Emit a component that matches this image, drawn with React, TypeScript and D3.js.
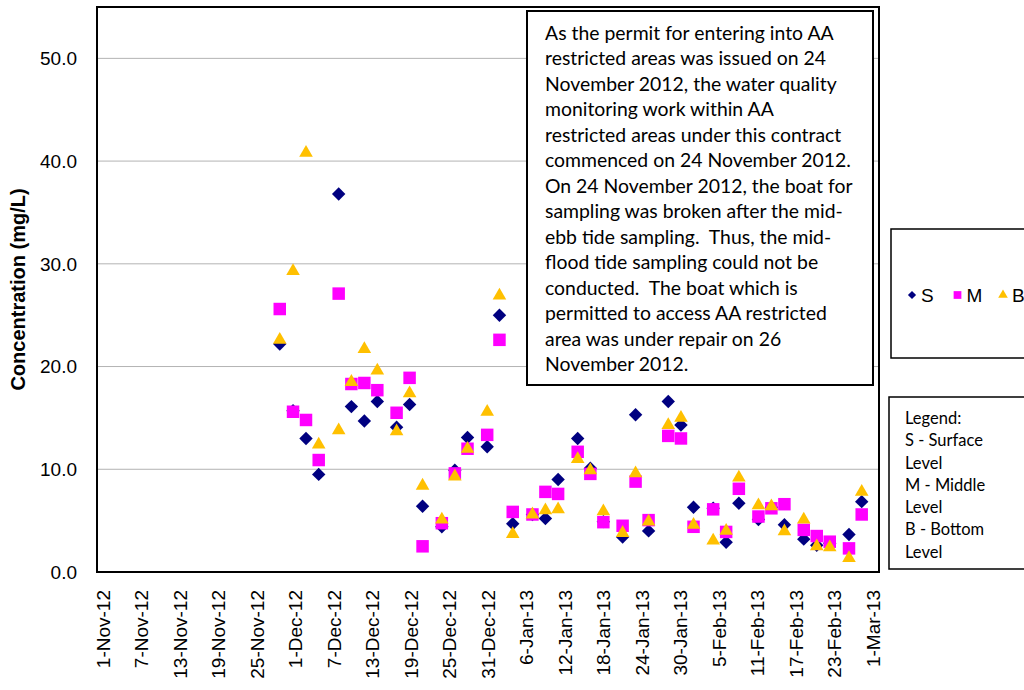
import * as d3 from "d3";
import { useEffect } from "react";

const sampleTimes = [
  "2012-11-28 13:20", "2012-11-30 15:00", "2012-12-02 15:30", "2012-12-04 15:00",
  "2012-12-07 17:40", "2012-12-09 17:10", "2012-12-11 17:40", "2012-12-13 18:10",
  "2012-12-16 18:15", "2012-12-18 18:50", "2012-12-20 19:20", "2012-12-23 19:25",
  "2012-12-25 20:00", "2012-12-27 19:25", "2012-12-30 21:00", "2013-01-01 18:50",
  "2013-01-03 20:30", "2013-01-06 22:10", "2013-01-08 22:40", "2013-01-10 22:10",
  "2013-01-13 23:20", "2013-01-15 22:40", "2013-01-17 23:20", "2013-01-20 23:20",
  "2013-01-22 23:50", "2013-01-25 00:30", "2013-01-28 02:00", "2013-01-30 01:30",
  "2013-02-01 00:30", "2013-02-04 02:00", "2013-02-06 02:30", "2013-02-08 02:00",
  "2013-02-11 03:10", "2013-02-13 03:40", "2013-02-15 04:20", "2013-02-18 04:40",
  "2013-02-20 05:10", "2013-02-22 05:50", "2013-02-25 05:50", "2013-02-27 05:20",
];

const surface = [
  22.2, 15.7, 13.0, 9.5, 36.8, 16.1, 14.7, 16.6, 14.1, 16.3,
  6.4, 4.4, 9.9, 13.1, 12.2, 25.0, 4.7, 5.6, 5.2, 9.0,
  13.0, 10.1, 4.9, 3.4, 15.3, 4.0, 16.6, 14.3, 6.3, 6.2,
  2.9, 6.7, 5.1, 6.3, 4.6, 3.2, 2.6, 2.8, 3.65, 6.85,
];

const middle = [
  25.6, 15.6, 14.8, 10.9, 27.1, 18.3, 18.4, 17.7, 15.5, 18.9,
  2.5, 4.75, 9.6, 12.0, 13.35, 22.6, 5.85, 5.6, 7.8, 7.6,
  11.7, 9.55, 4.85, 4.5, 8.8, 5.05, 13.25, 13.0, 4.4, 6.1,
  3.9, 8.1, 5.4, 6.2, 6.6, 4.1, 3.5, 2.95, 2.3, 5.6,
];

const bottom = [
  22.6, 29.3, 40.8, 12.4, 13.8, 18.5, 21.7, 19.6, 13.7, 17.4,
  8.4, 5.1, 9.3, 12.0, 15.6, 26.9, 3.7, 5.6, 6.0, 6.1,
  11.0, 9.9, 5.9, 3.8, 9.6, 4.9, 14.3, 15.0, 4.6, 3.05,
  4.0, 9.2, 6.5, 6.4, 3.95, 5.1, 2.5, 2.4, 1.35, 7.8,
];

const tickDates = [
  "2012-11-01", "2012-11-07", "2012-11-13", "2012-11-19", "2012-11-25",
  "2012-12-01", "2012-12-07", "2012-12-13", "2012-12-19", "2012-12-25",
  "2012-12-31", "2013-01-06", "2013-01-12", "2013-01-18", "2013-01-24",
  "2013-01-30", "2013-02-05", "2013-02-11", "2013-02-17", "2013-02-23",
  "2013-03-01",
];

const yTicks = [0, 10, 20, 30, 40, 50];

const noteLines = [
  "As the permit for entering into AA",
  "restricted areas was issued on 24",
  "November 2012, the water quality",
  "monitoring work within AA",
  "restricted areas under this contract",
  "commenced on 24 November 2012.",
  "On 24 November 2012, the boat for",
  "sampling was broken after the mid-",
  "ebb tide sampling.  Thus, the mid-",
  "flood tide sampling could not be",
  "conducted.  The boat which is",
  "permitted to access AA restricted",
  "area was under repair on 26",
  "November 2012.",
];

const legendLines = [
  "Legend:",
  "S - Surface",
  "Level",
  "M - Middle",
  "Level",
  "B - Bottom",
  "Level",
];

const parseTime = d3.timeParse("%Y-%m-%d %H:%M");
const parseDay = d3.timeParse("%Y-%m-%d");
const fmtDay = d3.timeFormat("%-d-%b-%y");

const AXIS_FONT = "'Liberation Sans', Arial, sans-serif";
const NOTE_FONT = "Lato, 'Open Sans', sans-serif";

const plot = { left: 97, right: 879, top: 7, bottom: 572 };

const diamondPath = d3.symbol(d3.symbolSquare, 90)()!;
const squarePath = d3.symbol(d3.symbolSquare, 156)()!;
const trianglePath = d3.symbol(d3.symbolTriangle, 80)()!;
const diamondSmall = d3.symbol(d3.symbolSquare, 34)()!;
const squareSmall = d3.symbol(d3.symbolSquare, 60)()!;
const triangleSmall = d3.symbol(d3.symbolTriangle, 40)()!;

export default function App() {
  useEffect(() => {
    document.body.style.margin = "0";
    document.body.style.overflow = "hidden";
  }, []);

  const x = d3
    .scaleTime()
    .domain([new Date(2012, 9, 31, 2), new Date(2013, 2, 1, 22)])
    .range([plot.left, plot.right]);
  const y = d3.scaleLinear().domain([0, 55]).range([plot.bottom, plot.top]);

  const times = sampleTimes.map((t) => parseTime(t)!);
  const series = [
    { name: "S", values: surface, color: "#000080", path: diamondPath, rotate: 45 },
    { name: "M", values: middle, color: "#FF00FF", path: squarePath, rotate: 0 },
    { name: "B", values: bottom, color: "#FFC000", path: trianglePath, rotate: 0 },
  ];

  return (
    <svg width={1024} height={690} style={{ display: "block", background: "#fff" }}>
      {/* gridlines */}
      {yTicks
        .filter((v) => v > 0)
        .map((v) => (
          <line key={v} x1={plot.left} x2={plot.right} y1={y(v)} y2={y(v)} stroke="#b3b3b3" strokeWidth={1} />
        ))}

      {/* markers */}
      {series.map((s) => (
        <g key={s.name}>
          {s.values.map((v, i) => (
            <path
              key={i}
              d={s.path}
              fill={s.color}
              transform={`translate(${x(times[i])},${y(v)}) rotate(${s.rotate})`}
            />
          ))}
        </g>
      ))}

      {/* plot frame */}
      <rect
        x={plot.left}
        y={plot.top}
        width={plot.right - plot.left}
        height={plot.bottom - plot.top}
        fill="none"
        stroke="#000"
        strokeWidth={2}
      />

      {/* y tick labels */}
      {yTicks.map((v) => (
        <text
          key={v}
          x={77}
          y={y(v)}
          dy="0.36em"
          textAnchor="end"
          fontFamily={AXIS_FONT}
          fontSize={19}
          fill="#000"
        >
          {v.toFixed(1)}
        </text>
      ))}

      {/* x tick labels */}
      {tickDates.map((d) => {
        const date = parseDay(d)!;
        return (
          <text
            key={d}
            transform={`translate(${x(date)},590) rotate(-90)`}
            dy="0.36em"
            textAnchor="end"
            fontFamily={AXIS_FONT}
            fontSize={19}
            fill="#000"
          >
            {fmtDay(date)}
          </text>
        );
      })}

      {/* y axis title */}
      <text
        transform={`translate(18,${(plot.top + plot.bottom) / 2}) rotate(-90)`}
        dy="0.36em"
        textAnchor="middle"
        fontFamily={AXIS_FONT}
        fontWeight="bold"
        fontSize={20}
        fill="#000"
      >
        Concentration (mg/L)
      </text>

      {/* note box */}
      <rect x={527} y={11} width={346} height={374} fill="#fff" stroke="#000" strokeWidth={2} />
      {noteLines.map((line, i) => (
        <text
          key={i}
          x={545}
          y={33 + i * 25.5}
          dy="0.36em"
          fontFamily={NOTE_FONT}
          fontSize={19.4}
          fill="#000"
          style={{ whiteSpace: "pre" }}
        >
          {line}
        </text>
      ))}

      {/* series legend */}
      <rect x={891} y={229} width={150} height={129} fill="#fff" stroke="#000" strokeWidth={1.5} />
      {series.map((s, i) => {
        const small = [diamondSmall, squareSmall, triangleSmall][i];
        const cx = 912 + i * 45.5;
        return (
          <g key={s.name}>
            <path d={small} fill={s.color} transform={`translate(${cx},295) rotate(${s.rotate})`} />
            <text x={cx + 9} y={295} dy="0.36em" fontFamily={AXIS_FONT} fontSize={19} fill="#000">
              {s.name}
            </text>
          </g>
        );
      })}

      {/* text legend */}
      <rect x={889} y={397} width={150} height={172} fill="#fff" stroke="#000" strokeWidth={1.5} />
      {legendLines.map((line, i) => (
        <text
          key={i}
          x={905}
          y={418 + i * 22.3}
          dy="0.36em"
          fontFamily={NOTE_FONT}
          fontSize={16.5}
          fill="#000"
        >
          {line}
        </text>
      ))}
    </svg>
  );
}
